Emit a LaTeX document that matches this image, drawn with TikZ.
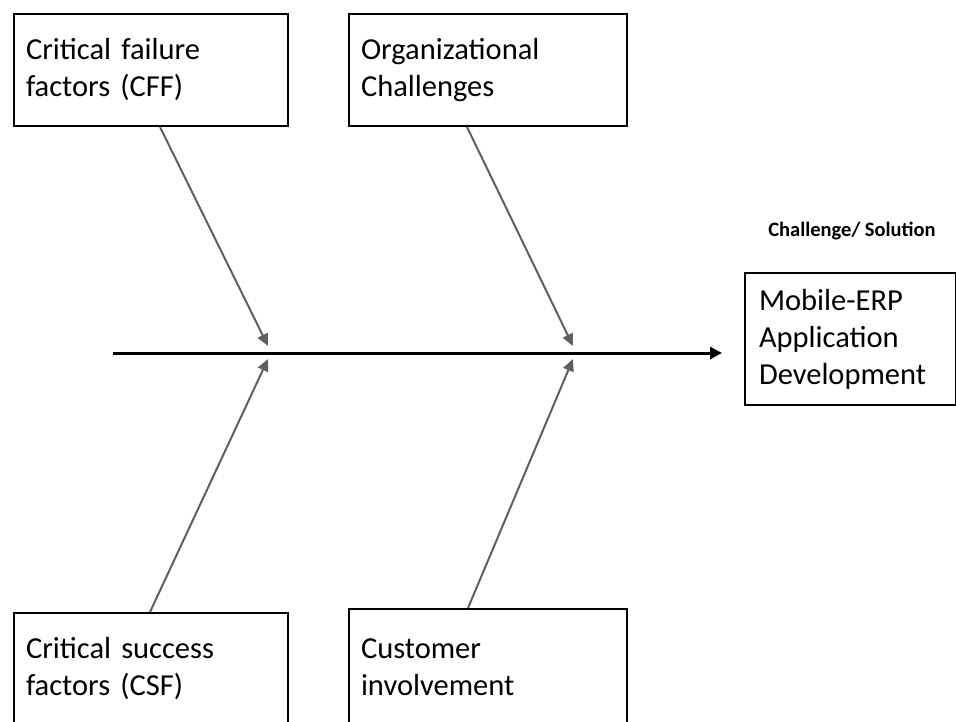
\documentclass[tikz,border=0pt]{standalone}
\usepackage{fontspec}
\setmainfont{Carlito}
\usetikzlibrary{arrows.meta}
\definecolor{bone}{HTML}{5F5F5F}
\tikzset{
  causebox/.style={draw=black, line width=2pt, rectangle, inner xsep=12pt, inner ysep=0pt,
    align=left, font=\fontsize{30.5}{37}\selectfont, anchor=north west},
  bonearrow/.style={draw=bone, line width=2pt, -{Triangle[length=12pt,width=11pt]}},
  spinearrow/.style={draw=black, line width=3pt, -{Triangle[length=12pt,width=12pt]}},
}
\begin{document}
\begin{tikzpicture}[x=1pt,y=-1pt]
\useasboundingbox (0,0) rectangle (956,722);
\clip (0,0) rectangle (956,722);
\node[causebox, text width=250pt, minimum height=112pt] (cff) at (13,13) {Critical failure\\factors (CFF)};
\node[causebox, text width=254pt, minimum height=112pt] (org) at (348,13) {Organizational\\Challenges};
\node[causebox, text width=250pt, minimum height=112pt] (csf) at (13,612) {Critical success\\factors (CSF)};
\node[causebox, text width=254pt, minimum height=116pt] (cust) at (348,608) {Customer\\involvement};
\node[causebox, inner xsep=14pt, text width=183pt, minimum height=132pt] (erp) at (744,272) {Mobile-ERP\\Application\\Development};
\node[font=\bfseries\fontsize{20.5}{24}\selectfont] (cs) at (852,231) {Challenge/ Solution};
\coordinate (sp0) at (113,353);
\coordinate (sp1) at (722,353);
\coordinate (xa) at (160,0);
\coordinate (xb) at (467,0);
\coordinate (xc) at (150,0);
\coordinate (xd) at (468,0);
\coordinate (ta) at (268,346);
\coordinate (tb) at (573,346);
\coordinate (tc) at (268,359);
\coordinate (td) at (573,359);
\draw[spinearrow] (sp0) -- (sp1);
\draw[bonearrow] (cff.south -| xa) -- (ta);
\draw[bonearrow] (org.south -| xb) -- (tb);
\draw[bonearrow] (csf.north -| xc) -- (tc);
\draw[bonearrow] (cust.north -| xd) -- (td);
\end{tikzpicture}
\end{document}
